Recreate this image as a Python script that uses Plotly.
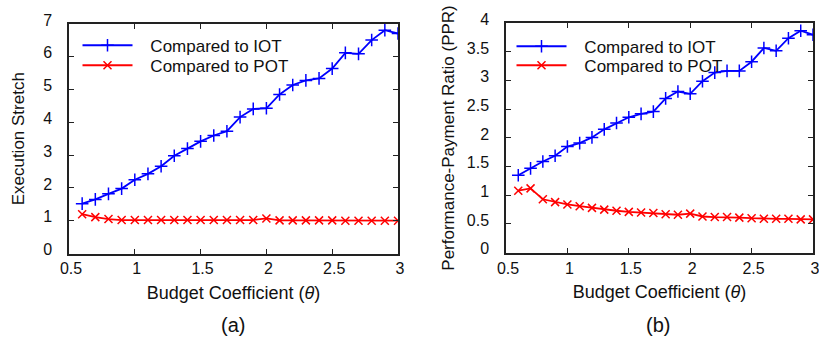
import plotly.graph_objects as go

theta = [0.6, 0.7, 0.8, 0.9, 1.0, 1.1, 1.2, 1.3, 1.4, 1.5, 1.6, 1.7, 1.8,
         1.9, 2.0, 2.1, 2.2, 2.3, 2.4, 2.5, 2.6, 2.7, 2.8, 2.9, 3.0]

stretch_iot = [1.52, 1.65, 1.82, 1.98, 2.25, 2.43, 2.66, 2.98, 3.20, 3.42, 3.60,
               3.73, 4.16, 4.41, 4.43, 4.85, 5.14, 5.28, 5.34, 5.64, 6.12, 6.09,
               6.51, 6.81, 6.71]
stretch_pot = [1.20, 1.11, 1.05, 1.02, 1.02, 1.02, 1.02, 1.02, 1.02, 1.02, 1.02,
               1.02, 1.02, 1.02, 1.07, 1.01, 1.01, 1.01, 1.01, 1.01, 1.00, 1.00,
               1.00, 1.00, 1.00]

ppr_iot = [1.35, 1.47, 1.59, 1.69, 1.85, 1.91, 2.01, 2.15, 2.26, 2.36, 2.42,
           2.46, 2.69, 2.81, 2.77, 2.99, 3.14, 3.17, 3.17, 3.33, 3.57, 3.52,
           3.74, 3.87, 3.80]
ppr_pot = [1.08, 1.12, 0.93, 0.88, 0.84, 0.81, 0.78, 0.75, 0.73, 0.71, 0.70,
           0.69, 0.67, 0.66, 0.68, 0.63, 0.62, 0.62, 0.61, 0.60, 0.59, 0.59,
           0.59, 0.58, 0.58]

series_names = ["Compared to IOT", "Compared to POT"]
x_ticks = [0.5, 1, 1.5, 2, 2.5, 3]
x_tick_labels = ["0.5", "1", "1.5", "2", "2.5", "3"]
y1_ticks = [0, 1, 2, 3, 4, 5, 6, 7]
y2_ticks = [0, 0.5, 1, 1.5, 2, 2.5, 3, 3.5, 4]
y2_tick_labels = ["0", "0.5", "1", "1.5", "2", "2.5", "3", "3.5", "4"]

BLUE = "#0000ff"
RED = "#ff0000"
FONT = "Liberation Sans, Arial, sans-serif"
PAD = "\u00a0\u00a0\u2009"

fig = go.Figure()

def add_pair(xa, ya, iot, pot, leg_a, leg_b):
    fig.add_trace(go.Scatter(
        x=theta, y=iot, mode="lines+markers", name=PAD + series_names[0],
        line=dict(color=BLUE, width=1.8),
        marker=dict(symbol="cross-thin", size=9, line=dict(color=BLUE, width=1.5)),
        xaxis=xa, yaxis=ya, legend=leg_a))
    fig.add_trace(go.Scatter(
        x=theta, y=pot, mode="lines+markers", name=PAD + series_names[1],
        line=dict(color=RED, width=1.8),
        marker=dict(symbol="x-thin", size=8, line=dict(color=RED, width=1.5)),
        xaxis=xa, yaxis=ya, legend=leg_b))

add_pair("x", "y", stretch_iot, stretch_pot, "legend", "legend2")
add_pair("x2", "y2", ppr_iot, ppr_pot, "legend3", "legend4")

W, H = 819, 339
axis_common = dict(
    showline=True, linecolor="#222", linewidth=1.5, mirror="allticks",
    ticks="inside", ticklen=5, tickwidth=1, tickcolor="#222",
    showgrid=False, zeroline=False, automargin=False,
    tickfont=dict(family=FONT, size=16, color="#111"),
)
x_common = dict(range=[0.5, 3], tickvals=x_ticks, ticktext=x_tick_labels,
                ticklabelshift=2, ticklabeloverflow="allow",
                title=dict(text="Budget Coefficient (<i>θ</i>)",
                           font=dict(family=FONT, size=18, color="#111"), standoff=10))

def legend_at(x_px, y_px):
    return dict(x=x_px / W, y=1 - y_px / H, xanchor="left", yanchor="middle",
                bgcolor="rgba(0,0,0,0)", borderwidth=0,
                font=dict(family=FONT, size=17, color="#111"),
                itemwidth=50, tracegroupgap=0)

fig.update_layout(
    width=W, height=H,
    margin=dict(l=0, r=0, t=0, b=0, pad=0, autoexpand=False),
    paper_bgcolor="white", plot_bgcolor="white",
    font=dict(family=FONT, color="#111"),
    showlegend=True,
    xaxis=dict(domain=[69 / W, 398 / W], anchor="y", **x_common, **axis_common),
    yaxis=dict(domain=[1 - 253.5 / H, 1 - 24 / H], range=[0, 7], tickvals=y1_ticks,
               anchor="x", ticklabelstandoff=12, ticklabelshift=-4,
               title=dict(text="Execution Stretch",
                          font=dict(family=FONT, size=17, color="#111"), standoff=14),
               **axis_common),
    xaxis2=dict(domain=[506 / W, 813 / W], anchor="y2", **x_common, **axis_common),
    yaxis2=dict(domain=[1 - 252.6 / H, 1 - 23.3 / H], range=[0, 4], tickvals=y2_ticks,
                ticktext=y2_tick_labels, anchor="x2", ticklabelstandoff=12,
                ticklabelshift=-4,
                title=dict(text="Performance-Payment Ratio (PPR)",
                           font=dict(family=FONT, size=17, color="#111"), standoff=8),
                **axis_common),
    legend=legend_at(77.5, 45.7),
    legend2=legend_at(77.5, 65.7),
    legend3=legend_at(511.5, 46.7),
    legend4=legend_at(511.5, 65.7),
    annotations=[
        dict(text="(a)", x=233 / W, y=1 - 325 / H, xref="paper", yref="paper",
             xanchor="center", yanchor="middle",
             showarrow=False, font=dict(family=FONT, size=20, color="#111")),
        dict(text="(b)", x=658 / W, y=1 - 325 / H, xref="paper", yref="paper",
             xanchor="center", yanchor="middle",
             showarrow=False, font=dict(family=FONT, size=20, color="#111")),
    ],
)

fig.write_html("out.html",
               config={"displayModeBar": False, "responsive": False},
               post_script="document.body.style.margin='0';document.body.style.overflow='hidden';")
